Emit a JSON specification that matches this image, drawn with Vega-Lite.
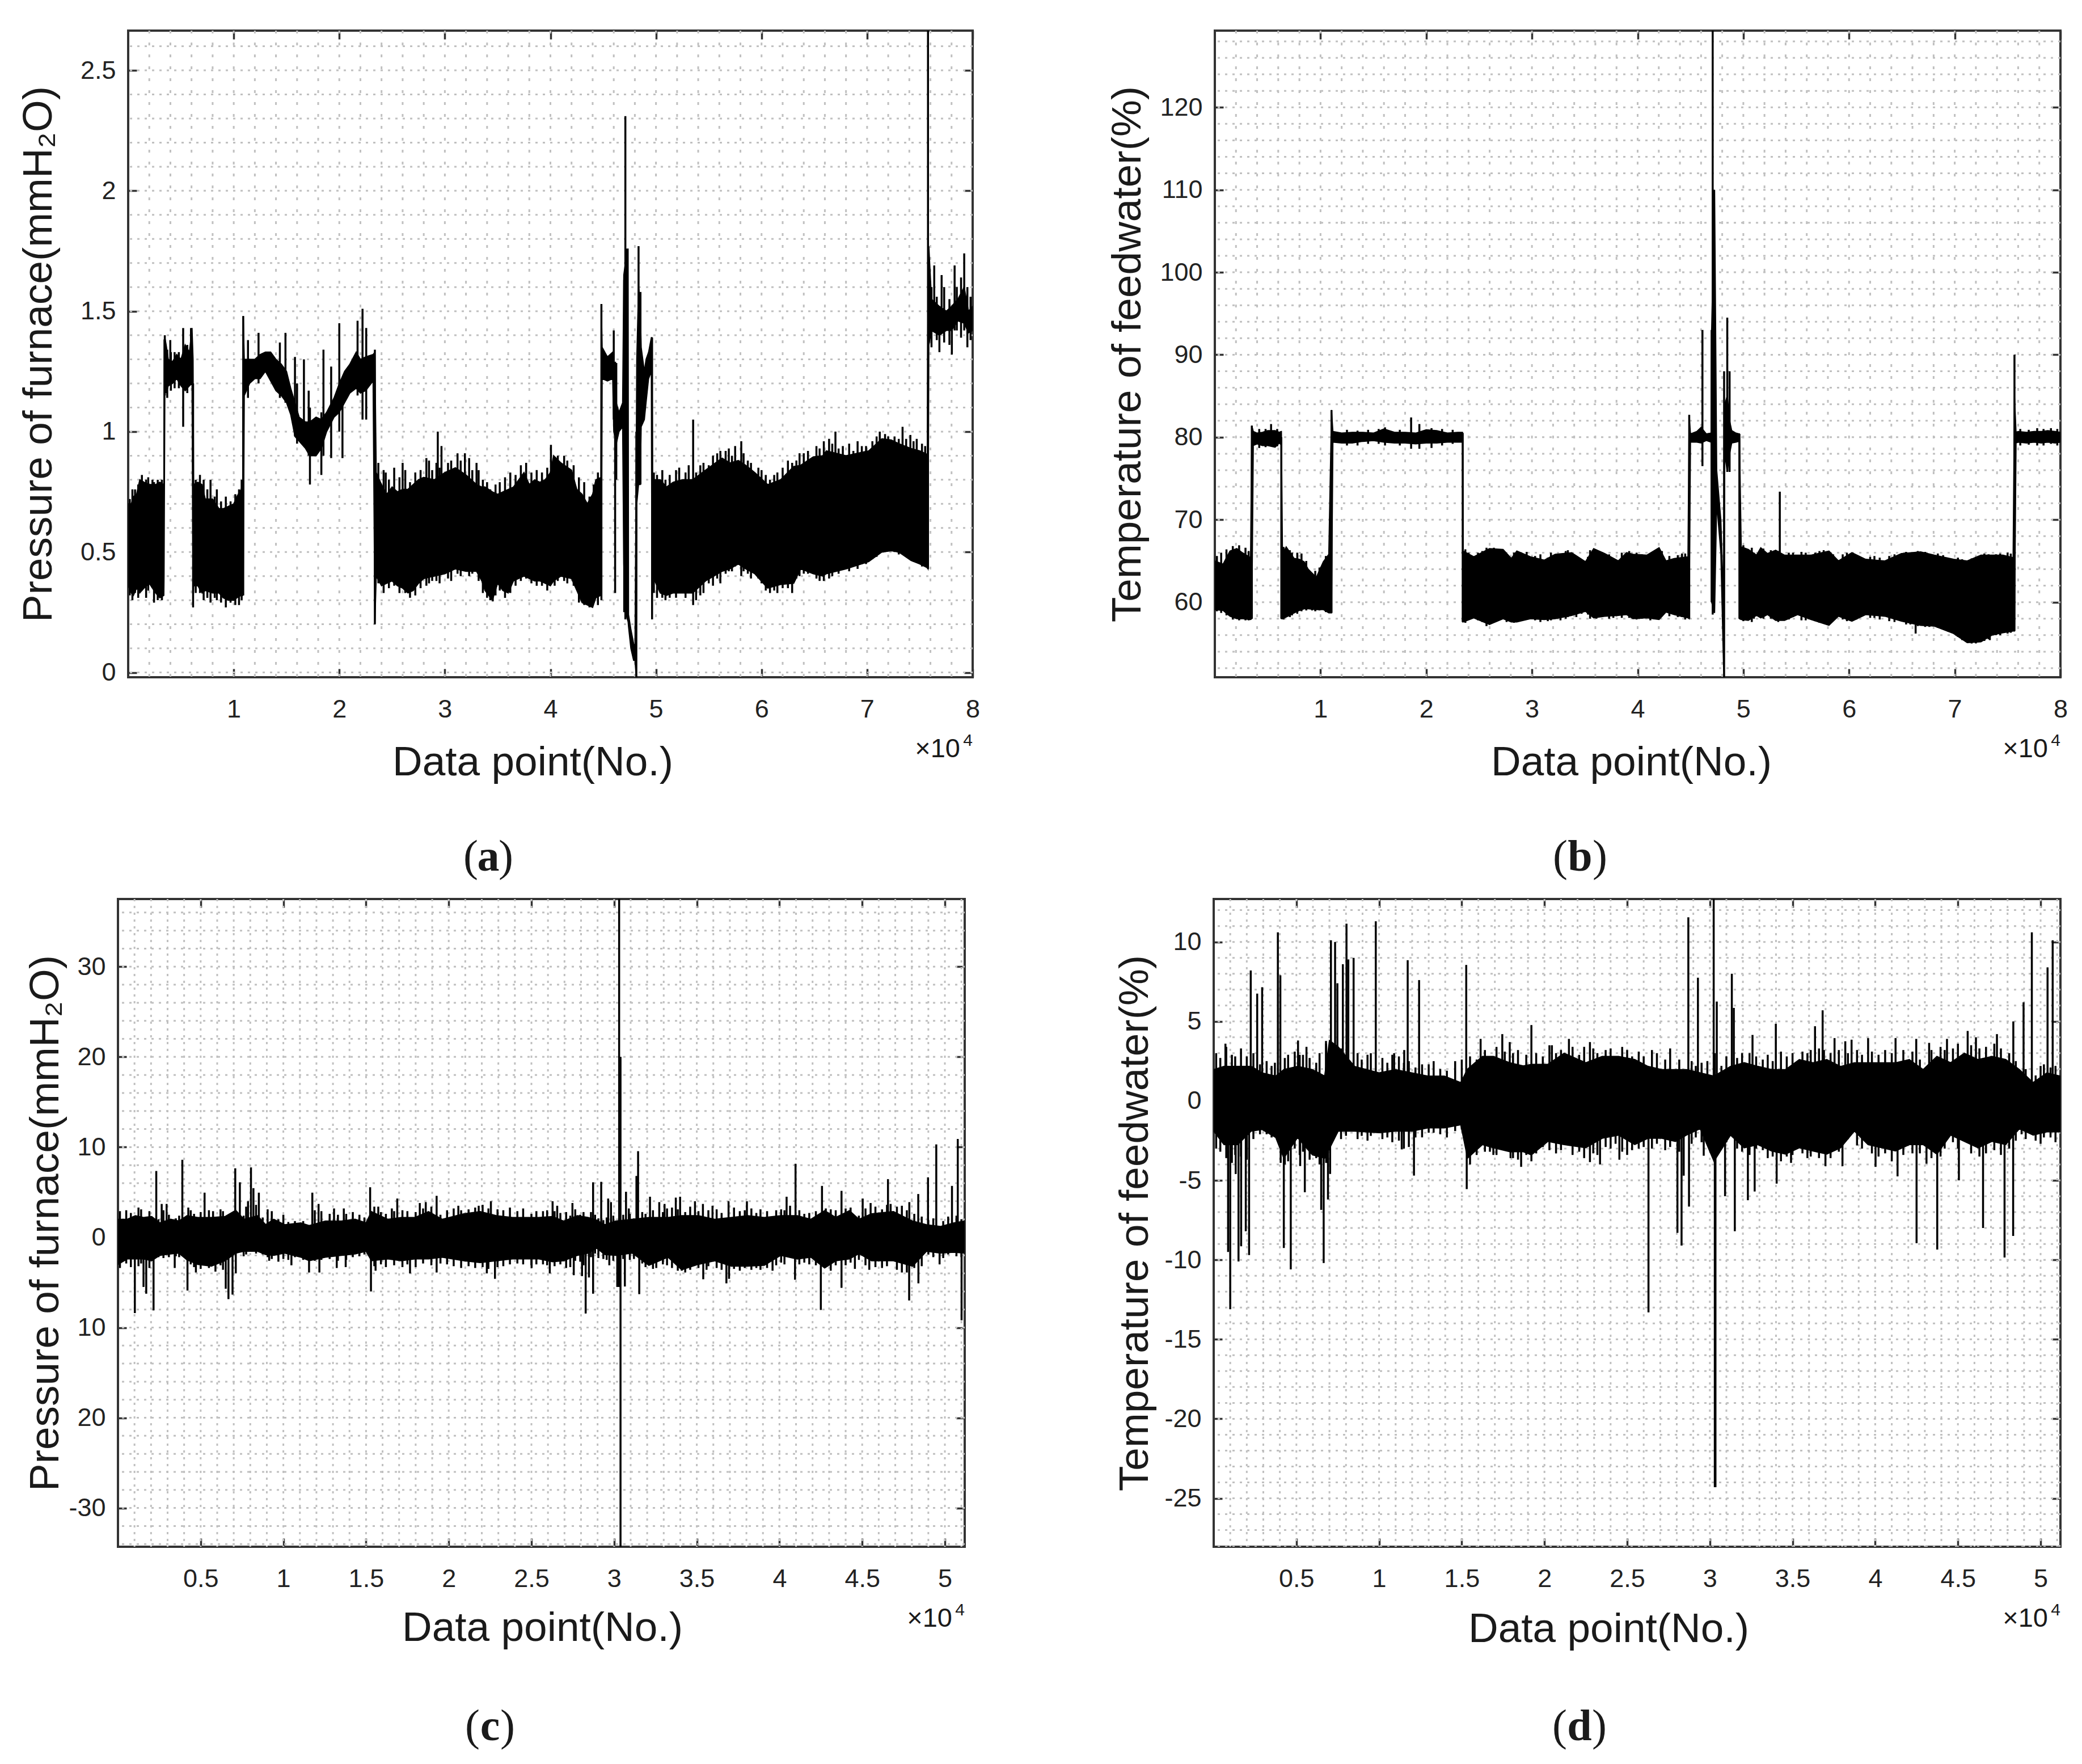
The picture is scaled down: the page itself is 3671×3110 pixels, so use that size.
{"$schema":"https://vega.github.io/schema/vega-lite/v6.json","background":"white","padding":{"left":30,"top":50,"right":0,"bottom":0},"bounds":"flush","spacing":1531,
"config":{"view":{"stroke":"#333333","strokeWidth":4},"axis":{"labelFont":"Liberation Sans","labelFontSize":45,"labelColor":"#222222","labelOverlap":false,"labelFlush":false,"labelBound":false,"titleFont":"Liberation Sans","titleFontSize":73,"titleFontWeight":"normal","titleColor":"#1a1a1a","titleBaseline":"middle","domain":false,"grid":false,"tickColor":"#333333","tickWidth":3.5,"tickSize":-15},"axisLeft":{"labelPadding":37},"axisBottom":{"labelPadding":49,"labelBaseline":"top"},"text":{"font":"Liberation Sans","color":"#1a1a1a"}},
"datasets":{
"note":[{"at":"caption"}],
"bandA":[{"n":0,"lo":0.36,"hi":0.7},{"n":300,"lo":0.33,"hi":0.7},{"n":500,"lo":0.32,"hi":0.73},{"n":800,"lo":0.35,"hi":0.74},{"n":1100,"lo":0.33,"hi":0.8},{"n":1500,"lo":0.35,"hi":0.79},{"n":2000,"lo":0.37,"hi":0.78},{"n":2600,"lo":0.33,"hi":0.78},{"n":3000,"lo":0.31,"hi":0.79},{"n":3380,"lo":0.32,"hi":0.78},{"n":3400,"lo":0.4,"hi":1.38},{"n":3480,"lo":1.2,"hi":1.39},{"n":3600,"lo":1.16,"hi":1.36},{"n":3800,"lo":1.19,"hi":1.3},{"n":4200,"lo":1.2,"hi":1.29},{"n":4600,"lo":1.22,"hi":1.32},{"n":5000,"lo":1.19,"hi":1.3},{"n":5400,"lo":1.17,"hi":1.36},{"n":5800,"lo":1.19,"hi":1.33},{"n":6050,"lo":1.2,"hi":1.43},{"n":6150,"lo":0.27,"hi":1.3},{"n":6200,"lo":0.36,"hi":0.78},{"n":6600,"lo":0.36,"hi":0.79},{"n":7000,"lo":0.33,"hi":0.78},{"n":7300,"lo":0.34,"hi":0.72},{"n":8000,"lo":0.33,"hi":0.72},{"n":8600,"lo":0.33,"hi":0.68},{"n":9000,"lo":0.31,"hi":0.68},{"n":9500,"lo":0.3,"hi":0.69},{"n":10000,"lo":0.3,"hi":0.7},{"n":10300,"lo":0.31,"hi":0.73},{"n":10700,"lo":0.32,"hi":0.76},{"n":10850,"lo":0.32,"hi":0.78},{"n":10900,"lo":0.35,"hi":1.48},{"n":11000,"lo":1.15,"hi":1.3},{"n":11500,"lo":1.2,"hi":1.3},{"n":12000,"lo":1.22,"hi":1.3},{"n":12500,"lo":1.22,"hi":1.32},{"n":13000,"lo":1.25,"hi":1.33},{"n":13500,"lo":1.21,"hi":1.33},{"n":14000,"lo":1.17,"hi":1.3},{"n":14500,"lo":1.15,"hi":1.28},{"n":15000,"lo":1.12,"hi":1.25},{"n":15400,"lo":1.07,"hi":1.18},{"n":15800,"lo":0.98,"hi":1.12},{"n":16200,"lo":0.96,"hi":1.06},{"n":16800,"lo":0.93,"hi":1.04},{"n":17200,"lo":0.9,"hi":1.04},{"n":17800,"lo":0.9,"hi":1.06},{"n":18300,"lo":0.93,"hi":1.05},{"n":18800,"lo":1,"hi":1.08},{"n":19500,"lo":1.06,"hi":1.14},{"n":20000,"lo":1.08,"hi":1.2},{"n":20500,"lo":1.12,"hi":1.25},{"n":21000,"lo":1.16,"hi":1.28},{"n":21600,"lo":1.18,"hi":1.33},{"n":22000,"lo":1.16,"hi":1.3},{"n":22500,"lo":1.17,"hi":1.31},{"n":23200,"lo":1.21,"hi":1.32},{"n":23370,"lo":0.2,"hi":1.33},{"n":23500,"lo":0.4,"hi":0.83},{"n":24000,"lo":0.36,"hi":0.78},{"n":24500,"lo":0.37,"hi":0.74},{"n":25000,"lo":0.38,"hi":0.77},{"n":25500,"lo":0.36,"hi":0.75},{"n":26000,"lo":0.35,"hi":0.76},{"n":26500,"lo":0.33,"hi":0.76},{"n":27000,"lo":0.34,"hi":0.78},{"n":27500,"lo":0.37,"hi":0.8},{"n":28000,"lo":0.39,"hi":0.81},{"n":29000,"lo":0.4,"hi":0.8},{"n":30000,"lo":0.41,"hi":0.83},{"n":31000,"lo":0.43,"hi":0.85},{"n":32000,"lo":0.42,"hi":0.82},{"n":33000,"lo":0.42,"hi":0.78},{"n":33500,"lo":0.38,"hi":0.77},{"n":33800,"lo":0.34,"hi":0.77},{"n":34500,"lo":0.3,"hi":0.75},{"n":35000,"lo":0.37,"hi":0.74},{"n":35500,"lo":0.34,"hi":0.75},{"n":36000,"lo":0.33,"hi":0.76},{"n":36500,"lo":0.38,"hi":0.77},{"n":37000,"lo":0.39,"hi":0.8},{"n":37500,"lo":0.4,"hi":0.83},{"n":38000,"lo":0.39,"hi":0.78},{"n":38500,"lo":0.38,"hi":0.8},{"n":39000,"lo":0.38,"hi":0.79},{"n":39500,"lo":0.37,"hi":0.8},{"n":40000,"lo":0.36,"hi":0.83},{"n":40300,"lo":0.38,"hi":0.9},{"n":41000,"lo":0.4,"hi":0.87},{"n":42000,"lo":0.39,"hi":0.84},{"n":42500,"lo":0.34,"hi":0.76},{"n":43000,"lo":0.29,"hi":0.74},{"n":43500,"lo":0.28,"hi":0.7},{"n":44000,"lo":0.27,"hi":0.74},{"n":44300,"lo":0.31,"hi":0.8},{"n":44780,"lo":0.32,"hi":0.81},{"n":44820,"lo":0.34,"hi":1.53},{"n":44900,"lo":1.22,"hi":1.35},{"n":45400,"lo":1.21,"hi":1.31},{"n":45900,"lo":1.22,"hi":1.33},{"n":46000,"lo":1,"hi":1.25},{"n":46240,"lo":0.95,"hi":1.12},{"n":46500,"lo":1,"hi":1.08},{"n":46840,"lo":1.02,"hi":1.12},{"n":46950,"lo":0.45,"hi":1.65},{"n":47100,"lo":0.25,"hi":1.7},{"n":47360,"lo":0.21,"hi":1.76},{"n":47400,"lo":0.19,"hi":0.24},{"n":47620,"lo":0.1,"hi":0.18},{"n":47880,"lo":0.05,"hi":0.12},{"n":48010,"lo":0.05,"hi":0.1},{"n":48130,"lo":-0.02,"hi":0.9},{"n":48180,"lo":0.7,"hi":1.3},{"n":48350,"lo":0.78,"hi":1.6},{"n":48500,"lo":0.78,"hi":1.55},{"n":48600,"lo":1.02,"hi":1.35},{"n":48900,"lo":1.05,"hi":1.25},{"n":49060,"lo":1.12,"hi":1.3},{"n":49300,"lo":1.22,"hi":1.33},{"n":49560,"lo":1.25,"hi":1.39},{"n":49620,"lo":0.22,"hi":1.39},{"n":49680,"lo":0.4,"hi":0.8},{"n":50400,"lo":0.33,"hi":0.8},{"n":51000,"lo":0.32,"hi":0.77},{"n":51630,"lo":0.33,"hi":0.79},{"n":52500,"lo":0.33,"hi":0.8},{"n":53480,"lo":0.33,"hi":0.8},{"n":54700,"lo":0.38,"hi":0.84},{"n":56260,"lo":0.42,"hi":0.89},{"n":57000,"lo":0.43,"hi":0.87},{"n":57800,"lo":0.45,"hi":0.88},{"n":58500,"lo":0.43,"hi":0.86},{"n":59350,"lo":0.41,"hi":0.83},{"n":60580,"lo":0.35,"hi":0.78},{"n":61800,"lo":0.365,"hi":0.8},{"n":63050,"lo":0.37,"hi":0.855},{"n":63700,"lo":0.43,"hi":0.86},{"n":64900,"lo":0.41,"hi":0.895},{"n":65800,"lo":0.4,"hi":0.9},{"n":66140,"lo":0.41,"hi":0.92},{"n":68000,"lo":0.43,"hi":0.9},{"n":70150,"lo":0.46,"hi":0.92},{"n":71400,"lo":0.5,"hi":0.97},{"n":72300,"lo":0.505,"hi":0.965},{"n":73000,"lo":0.5,"hi":0.95},{"n":74160,"lo":0.465,"hi":0.93},{"n":75000,"lo":0.45,"hi":0.92},{"n":75700,"lo":0.435,"hi":0.905},{"n":75770,"lo":0.43,"hi":1.6},{"n":75850,"lo":1.36,"hi":1.77},{"n":76100,"lo":1.42,"hi":1.55},{"n":76850,"lo":1.4,"hi":1.52},{"n":77500,"lo":1.42,"hi":1.5},{"n":78000,"lo":1.42,"hi":1.52},{"n":78600,"lo":1.46,"hi":1.55},{"n":79200,"lo":1.45,"hi":1.6},{"n":79600,"lo":1.41,"hi":1.5},{"n":80000,"lo":1.42,"hi":1.52}],
"spikeA":[{"n":3470,"lo":1.15,"hi":1.4},{"n":3990,"lo":1.2,"hi":1.38},{"n":5210,"lo":1.02,"hi":1.43},{"n":5950,"lo":1.2,"hi":1.43},{"n":6150,"lo":0.27,"hi":1.2},{"n":10900,"lo":0.32,"hi":1.48},{"n":11350,"lo":1.14,"hi":1.38},{"n":12350,"lo":1.2,"hi":1.41},{"n":14370,"lo":1.14,"hi":1.37},{"n":14900,"lo":1.12,"hi":1.41},{"n":15800,"lo":0.98,"hi":1.31},{"n":16000,"lo":0.95,"hi":1.2},{"n":16650,"lo":0.95,"hi":1.3},{"n":17100,"lo":0.9,"hi":1.17},{"n":17220,"lo":0.78,"hi":1.1},{"n":18300,"lo":0.82,"hi":1.08},{"n":18500,"lo":0.9,"hi":1.34},{"n":19230,"lo":0.89,"hi":1.27},{"n":20000,"lo":1,"hi":1.45},{"n":20300,"lo":0.89,"hi":1.2},{"n":21730,"lo":1.15,"hi":1.46},{"n":22200,"lo":1.05,"hi":1.51},{"n":22550,"lo":1.05,"hi":1.43},{"n":23370,"lo":0.2,"hi":1.34},{"n":24400,"lo":0.6,"hi":0.83},{"n":26000,"lo":0.6,"hi":0.87},{"n":29330,"lo":0.7,"hi":1},{"n":29680,"lo":0.7,"hi":0.94},{"n":31900,"lo":0.7,"hi":0.91},{"n":33000,"lo":0.7,"hi":0.87},{"n":34540,"lo":0.295,"hi":0.5},{"n":40050,"lo":0.4,"hi":0.945},{"n":44830,"lo":0.3,"hi":1.53},{"n":46000,"lo":1.05,"hi":1.42},{"n":46130,"lo":0.33,"hi":1.29},{"n":46240,"lo":0.8,"hi":1.285},{"n":46990,"lo":0.25,"hi":1.63},{"n":47100,"lo":0.22,"hi":2.31},{"n":47230,"lo":0.3,"hi":1.76},{"n":48140,"lo":-0.02,"hi":1},{"n":48350,"lo":0.78,"hi":1.77},{"n":48530,"lo":0.78,"hi":1.58},{"n":49630,"lo":0.22,"hi":1.39},{"n":53520,"lo":0.28,"hi":1.05},{"n":58080,"lo":0.4,"hi":0.96},{"n":67000,"lo":0.6,"hi":1},{"n":73360,"lo":0.6,"hi":1.02},{"n":74100,"lo":0.6,"hi":0.986},{"n":75770,"lo":0.43,"hi":2.665},{"n":76360,"lo":1.42,"hi":1.69},{"n":76850,"lo":1.33,"hi":1.5},{"n":77060,"lo":1.42,"hi":1.65},{"n":78030,"lo":1.32,"hi":1.5},{"n":78290,"lo":1.42,"hi":1.69},{"n":79200,"lo":1.42,"hi":1.74},{"n":150,"lo":0.32,"hi":0.72},{"n":400,"lo":0.3,"hi":0.76},{"n":650,"lo":0.33,"hi":0.76},{"n":950,"lo":0.31,"hi":0.78},{"n":1300,"lo":0.34,"hi":0.82},{"n":1700,"lo":0.31,"hi":0.8},{"n":1900,"lo":0.34,"hi":0.81},{"n":2300,"lo":0.35,"hi":0.8},{"n":2450,"lo":0.29,"hi":0.79},{"n":2800,"lo":0.3,"hi":0.8},{"n":3200,"lo":0.3,"hi":0.8},{"n":3700,"lo":1.14,"hi":1.34},{"n":4050,"lo":1.17,"hi":1.33},{"n":4400,"lo":1.18,"hi":1.33},{"n":4800,"lo":1.18,"hi":1.33},{"n":5600,"lo":1.16,"hi":1.36},{"n":6400,"lo":0.33,"hi":0.8},{"n":6800,"lo":0.33,"hi":0.82},{"n":7150,"lo":0.3,"hi":0.8},{"n":7500,"lo":0.31,"hi":0.76},{"n":7800,"lo":0.29,"hi":0.8},{"n":8200,"lo":0.31,"hi":0.73},{"n":8400,"lo":0.3,"hi":0.76},{"n":8800,"lo":0.29,"hi":0.71},{"n":9250,"lo":0.27,"hi":0.73},{"n":9700,"lo":0.29,"hi":0.71},{"n":10150,"lo":0.28,"hi":0.74},{"n":10500,"lo":0.28,"hi":0.76},{"n":10750,"lo":0.3,"hi":0.8},{"n":23700,"lo":0.37,"hi":0.87},{"n":24200,"lo":0.33,"hi":0.84},{"n":24700,"lo":0.35,"hi":0.8},{"n":25200,"lo":0.36,"hi":0.85},{"n":25700,"lo":0.33,"hi":0.81},{"n":26250,"lo":0.33,"hi":0.84},{"n":26700,"lo":0.31,"hi":0.79},{"n":27200,"lo":0.32,"hi":0.83},{"n":27700,"lo":0.35,"hi":0.84},{"n":28250,"lo":0.36,"hi":0.89},{"n":28500,"lo":0.37,"hi":0.88},{"n":28800,"lo":0.38,"hi":0.84},{"n":29200,"lo":0.38,"hi":0.87},{"n":29500,"lo":0.37,"hi":0.85},{"n":30300,"lo":0.39,"hi":0.87},{"n":30600,"lo":0.38,"hi":0.88},{"n":31200,"lo":0.41,"hi":0.91},{"n":31500,"lo":0.4,"hi":0.88},{"n":32300,"lo":0.4,"hi":0.89},{"n":32600,"lo":0.41,"hi":0.84},{"n":33200,"lo":0.38,"hi":0.84},{"n":33600,"lo":0.33,"hi":0.8},{"n":34000,"lo":0.31,"hi":0.79},{"n":34300,"lo":0.3,"hi":0.76},{"n":34800,"lo":0.32,"hi":0.78},{"n":35200,"lo":0.34,"hi":0.79},{"n":35700,"lo":0.31,"hi":0.81},{"n":36200,"lo":0.33,"hi":0.83},{"n":36700,"lo":0.36,"hi":0.82},{"n":37200,"lo":0.38,"hi":0.86},{"n":37700,"lo":0.39,"hi":0.87},{"n":38200,"lo":0.37,"hi":0.83},{"n":38700,"lo":0.36,"hi":0.84},{"n":39200,"lo":0.36,"hi":0.83},{"n":39700,"lo":0.34,"hi":0.85},{"n":40400,"lo":0.36,"hi":0.88},{"n":40700,"lo":0.38,"hi":0.9},{"n":41300,"lo":0.38,"hi":0.9},{"n":41600,"lo":0.37,"hi":0.88},{"n":42200,"lo":0.36,"hi":0.86},{"n":42700,"lo":0.29,"hi":0.81},{"n":43200,"lo":0.28,"hi":0.79},{"n":43700,"lo":0.27,"hi":0.73},{"n":44100,"lo":0.29,"hi":0.78},{"n":44500,"lo":0.28,"hi":0.83},{"n":49800,"lo":0.33,"hi":0.83},{"n":50100,"lo":0.31,"hi":0.82},{"n":50600,"lo":0.31,"hi":0.84},{"n":50900,"lo":0.3,"hi":0.8},{"n":51300,"lo":0.31,"hi":0.82},{"n":51900,"lo":0.31,"hi":0.84},{"n":52200,"lo":0.33,"hi":0.85},{"n":52800,"lo":0.31,"hi":0.83},{"n":53100,"lo":0.33,"hi":0.86},{"n":53800,"lo":0.3,"hi":0.83},{"n":54200,"lo":0.32,"hi":0.86},{"n":54500,"lo":0.33,"hi":0.87},{"n":55000,"lo":0.37,"hi":0.86},{"n":55400,"lo":0.36,"hi":0.9},{"n":55800,"lo":0.39,"hi":0.91},{"n":56100,"lo":0.37,"hi":0.92},{"n":56600,"lo":0.41,"hi":0.92},{"n":56900,"lo":0.42,"hi":0.93},{"n":57200,"lo":0.42,"hi":0.9},{"n":57500,"lo":0.44,"hi":0.94},{"n":58300,"lo":0.42,"hi":0.91},{"n":58700,"lo":0.41,"hi":0.88},{"n":59000,"lo":0.39,"hi":0.87},{"n":59700,"lo":0.39,"hi":0.85},{"n":60000,"lo":0.37,"hi":0.84},{"n":60400,"lo":0.34,"hi":0.82},{"n":60800,"lo":0.33,"hi":0.8},{"n":61200,"lo":0.34,"hi":0.82},{"n":61500,"lo":0.33,"hi":0.83},{"n":62000,"lo":0.35,"hi":0.85},{"n":62500,"lo":0.35,"hi":0.88},{"n":62900,"lo":0.33,"hi":0.87},{"n":63300,"lo":0.39,"hi":0.88},{"n":63600,"lo":0.4,"hi":0.91},{"n":64000,"lo":0.41,"hi":0.91},{"n":64400,"lo":0.41,"hi":0.92},{"n":65200,"lo":0.39,"hi":0.94},{"n":65500,"lo":0.38,"hi":0.93},{"n":65900,"lo":0.38,"hi":0.96},{"n":66400,"lo":0.39,"hi":0.97},{"n":66700,"lo":0.4,"hi":0.95},{"n":67300,"lo":0.41,"hi":0.93},{"n":67700,"lo":0.43,"hi":0.94},{"n":68300,"lo":0.42,"hi":0.95},{"n":68700,"lo":0.44,"hi":0.92},{"n":69100,"lo":0.43,"hi":0.96},{"n":69500,"lo":0.45,"hi":0.94},{"n":69900,"lo":0.45,"hi":0.94},{"n":70500,"lo":0.47,"hi":0.96},{"n":70900,"lo":0.48,"hi":0.98},{"n":71200,"lo":0.5,"hi":1},{"n":71700,"lo":0.5,"hi":0.99},{"n":72000,"lo":0.51,"hi":0.98},{"n":72600,"lo":0.5,"hi":0.98},{"n":73000,"lo":0.49,"hi":0.97},{"n":73700,"lo":0.48,"hi":0.97},{"n":74400,"lo":0.46,"hi":0.96},{"n":74700,"lo":0.46,"hi":0.97},{"n":75200,"lo":0.44,"hi":0.95},{"n":75500,"lo":0.44,"hi":0.94},{"n":76100,"lo":1.35,"hi":1.6},{"n":76600,"lo":1.38,"hi":1.56},{"n":77300,"lo":1.37,"hi":1.6},{"n":77800,"lo":1.36,"hi":1.55},{"n":78500,"lo":1.42,"hi":1.6},{"n":78900,"lo":1.39,"hi":1.64},{"n":79500,"lo":1.35,"hi":1.6},{"n":79800,"lo":1.38,"hi":1.56}],
"bandB":[{"n":0,"lo":59.1,"hi":65},{"n":780,"lo":59,"hi":64.6},{"n":1430,"lo":58.3,"hi":66.2},{"n":2080,"lo":58,"hi":66.5},{"n":2600,"lo":58,"hi":66},{"n":3380,"lo":57.9,"hi":65.4},{"n":3500,"lo":58,"hi":81.4},{"n":3640,"lo":79,"hi":80.7},{"n":4000,"lo":79.2,"hi":80.5},{"n":4500,"lo":79,"hi":80.6},{"n":5000,"lo":79,"hi":80.8},{"n":5700,"lo":78.8,"hi":80.8},{"n":6100,"lo":79.3,"hi":80.6},{"n":6270,"lo":79.1,"hi":80.7},{"n":6300,"lo":58,"hi":80.7},{"n":6400,"lo":58,"hi":65.8},{"n":6750,"lo":58.2,"hi":66.7},{"n":7500,"lo":58.7,"hi":65.3},{"n":8000,"lo":59,"hi":65.2},{"n":8450,"lo":59.2,"hi":64.9},{"n":8830,"lo":59.2,"hi":64},{"n":9600,"lo":59.1,"hi":63},{"n":10260,"lo":59.1,"hi":64.9},{"n":10780,"lo":58.7,"hi":65.8},{"n":11040,"lo":58.7,"hi":83.3},{"n":11170,"lo":79.4,"hi":80.7},{"n":12000,"lo":79.3,"hi":80.5},{"n":13000,"lo":79.3,"hi":80.6},{"n":14000,"lo":79.5,"hi":80.6},{"n":15000,"lo":79.6,"hi":80.5},{"n":16000,"lo":79.4,"hi":81},{"n":17000,"lo":79.3,"hi":80.6},{"n":18000,"lo":79.3,"hi":80.6},{"n":19000,"lo":79.2,"hi":80.5},{"n":20000,"lo":79.3,"hi":80.9},{"n":21000,"lo":79.3,"hi":80.8},{"n":22000,"lo":79.4,"hi":80.5},{"n":23000,"lo":79.4,"hi":80.6},{"n":23430,"lo":79.4,"hi":80.6},{"n":23460,"lo":57.6,"hi":80.5},{"n":23500,"lo":57.6,"hi":66.2},{"n":24500,"lo":58.1,"hi":65.5},{"n":25980,"lo":57.3,"hi":66.5},{"n":27270,"lo":58,"hi":66.4},{"n":28050,"lo":57.6,"hi":65.3},{"n":28570,"lo":57.6,"hi":66.2},{"n":29860,"lo":58,"hi":65.5},{"n":31160,"lo":57.9,"hi":65.1},{"n":32200,"lo":58,"hi":65.8},{"n":33760,"lo":58.4,"hi":66},{"n":35060,"lo":58.9,"hi":64.9},{"n":35840,"lo":58.1,"hi":66.5},{"n":36880,"lo":58.3,"hi":65.9},{"n":38170,"lo":58.4,"hi":65},{"n":38950,"lo":58.5,"hi":66},{"n":39560,"lo":58,"hi":65.8},{"n":40860,"lo":58.1,"hi":65.7},{"n":42030,"lo":57.9,"hi":66.6},{"n":42680,"lo":58.8,"hi":65},{"n":43460,"lo":58.5,"hi":65.3},{"n":44760,"lo":58.1,"hi":65.5},{"n":44870,"lo":58,"hi":82.7},{"n":45000,"lo":79.4,"hi":80.4},{"n":45600,"lo":79.4,"hi":80.7},{"n":46000,"lo":79.3,"hi":81.2},{"n":46500,"lo":79.6,"hi":80.4},{"n":46950,"lo":79.4,"hi":80.5},{"n":47000,"lo":60,"hi":93},{"n":47280,"lo":58.7,"hi":110},{"n":47480,"lo":72,"hi":76},{"n":47870,"lo":66,"hi":70},{"n":48130,"lo":52,"hi":60},{"n":48180,"lo":50.9,"hi":80},{"n":48240,"lo":78,"hi":84},{"n":48480,"lo":75.8,"hi":85},{"n":48700,"lo":78,"hi":82},{"n":48900,"lo":79.3,"hi":80.8},{"n":49300,"lo":79.4,"hi":80.5},{"n":49600,"lo":79.5,"hi":80.4},{"n":49630,"lo":58,"hi":80.4},{"n":49800,"lo":57.9,"hi":66.7},{"n":50470,"lo":57.8,"hi":66.4},{"n":51250,"lo":58.4,"hi":65.7},{"n":51650,"lo":58.1,"hi":66.6},{"n":52280,"lo":58.5,"hi":65.9},{"n":53060,"lo":57.8,"hi":66.3},{"n":53900,"lo":57.8,"hi":65.7},{"n":55130,"lo":58.5,"hi":65.7},{"n":56420,"lo":57.9,"hi":65.7},{"n":58100,"lo":57.2,"hi":66.2},{"n":59000,"lo":58.3,"hi":65},{"n":60270,"lo":57.7,"hi":66},{"n":61570,"lo":58.5,"hi":65.2},{"n":63390,"lo":58.3,"hi":65},{"n":64950,"lo":57.7,"hi":65.9},{"n":66770,"lo":57.2,"hi":66.1},{"n":68070,"lo":57.1,"hi":65.7},{"n":69890,"lo":56.2,"hi":65.2},{"n":71180,"lo":55.1,"hi":65},{"n":72480,"lo":55.2,"hi":65.7},{"n":73500,"lo":56,"hi":65.7},{"n":74560,"lo":56.3,"hi":65.7},{"n":75520,"lo":56.5,"hi":65.4},{"n":75650,"lo":56.5,"hi":85},{"n":75800,"lo":79.3,"hi":80.6},{"n":76000,"lo":79.4,"hi":80.7},{"n":76800,"lo":79.3,"hi":80.6},{"n":77500,"lo":79.4,"hi":80.7},{"n":78200,"lo":79.3,"hi":80.7},{"n":78800,"lo":79.4,"hi":80.8},{"n":79500,"lo":79.3,"hi":80.7},{"n":80000,"lo":79.4,"hi":80.6}],
"spikeB":[{"n":3500,"lo":58,"hi":81.4},{"n":5320,"lo":79,"hi":81.6},{"n":6290,"lo":58,"hi":80},{"n":11040,"lo":58.7,"hi":83.3},{"n":16100,"lo":79,"hi":81.2},{"n":18570,"lo":78.6,"hi":82.4},{"n":19350,"lo":78.6,"hi":81.6},{"n":20500,"lo":78.7,"hi":81.1},{"n":23450,"lo":57.6,"hi":80.5},{"n":26000,"lo":57.3,"hi":66.5},{"n":44880,"lo":58,"hi":82.7},{"n":46130,"lo":76.5,"hi":93},{"n":47000,"lo":60,"hi":93},{"n":47100,"lo":58.5,"hi":129.3},{"n":47200,"lo":58.7,"hi":110},{"n":48180,"lo":50.9,"hi":88},{"n":48480,"lo":75.8,"hi":94.5},{"n":48700,"lo":75.8,"hi":88},{"n":49630,"lo":58,"hi":80.4},{"n":53450,"lo":58,"hi":73.4},{"n":66300,"lo":56.2,"hi":62},{"n":73320,"lo":55.4,"hi":62},{"n":75650,"lo":56.5,"hi":90},{"n":200,"lo":58.9,"hi":65.6},{"n":600,"lo":58.7,"hi":66},{"n":1100,"lo":58.4,"hi":66.4},{"n":1700,"lo":57.9,"hi":66.8},{"n":2300,"lo":57.8,"hi":66.9},{"n":2900,"lo":57.8,"hi":66.6},{"n":3200,"lo":57.8,"hi":66.2},{"n":4200,"lo":78.7,"hi":81},{"n":4800,"lo":78.8,"hi":81},{"n":5900,"lo":78.9,"hi":81},{"n":6500,"lo":57.9,"hi":66.7},{"n":7100,"lo":58.2,"hi":66.3},{"n":7300,"lo":58.4,"hi":66},{"n":7800,"lo":58.6,"hi":66},{"n":8200,"lo":58.9,"hi":65.9},{"n":8650,"lo":59,"hi":65},{"n":9200,"lo":59,"hi":63.5},{"n":9500,"lo":58.9,"hi":63.8},{"n":9900,"lo":59,"hi":64.2},{"n":10500,"lo":58.8,"hi":65.6},{"n":12500,"lo":79,"hi":80.9},{"n":13500,"lo":79,"hi":80.8},{"n":14500,"lo":79.2,"hi":80.9},{"n":15500,"lo":79.2,"hi":81},{"n":17500,"lo":79,"hi":80.9},{"n":21500,"lo":79,"hi":81},{"n":22500,"lo":79.2,"hi":80.9},{"n":23700,"lo":57.5,"hi":66.4},{"n":24000,"lo":57.9,"hi":66},{"n":24900,"lo":57.8,"hi":66},{"n":25300,"lo":57.6,"hi":66.2},{"n":25700,"lo":57.1,"hi":66.6},{"n":26400,"lo":57.8,"hi":66.6},{"n":26800,"lo":57.8,"hi":66.3},{"n":27600,"lo":57.6,"hi":65.8},{"n":28300,"lo":57.5,"hi":66},{"n":29100,"lo":57.8,"hi":65.7},{"n":29500,"lo":57.9,"hi":66.1},{"n":30300,"lo":57.8,"hi":65.6},{"n":30800,"lo":57.6,"hi":65.8},{"n":31500,"lo":57.7,"hi":65.4},{"n":31800,"lo":57.8,"hi":66},{"n":32700,"lo":57.8,"hi":65.8},{"n":33200,"lo":58,"hi":66.2},{"n":33400,"lo":58.2,"hi":66.3},{"n":34200,"lo":58.2,"hi":65.6},{"n":34700,"lo":58.6,"hi":65.1},{"n":35300,"lo":58.5,"hi":65.5},{"n":35500,"lo":58,"hi":66.3},{"n":36100,"lo":58,"hi":66.2},{"n":36500,"lo":58.3,"hi":66.1},{"n":37300,"lo":58,"hi":65.8},{"n":37700,"lo":58.1,"hi":65.2},{"n":38500,"lo":58.1,"hi":66},{"n":39200,"lo":58.1,"hi":66.2},{"n":39900,"lo":57.9,"hi":66},{"n":40400,"lo":58,"hi":65.8},{"n":41200,"lo":57.8,"hi":65.9},{"n":41700,"lo":58,"hi":66.2},{"n":42300,"lo":58.3,"hi":66.2},{"n":43000,"lo":58.3,"hi":65.6},{"n":43800,"lo":58.2,"hi":65.7},{"n":44200,"lo":58.2,"hi":65.9},{"n":44500,"lo":57.9,"hi":65.9},{"n":50000,"lo":57.7,"hi":66.9},{"n":50800,"lo":57.6,"hi":66.6},{"n":51000,"lo":58,"hi":66},{"n":51900,"lo":58,"hi":66.5},{"n":52600,"lo":58,"hi":66.3},{"n":53300,"lo":57.6,"hi":66.2},{"n":54300,"lo":57.9,"hi":66},{"n":54700,"lo":58.2,"hi":66},{"n":55500,"lo":57.8,"hi":66.1},{"n":55900,"lo":57.8,"hi":66},{"n":56800,"lo":57.7,"hi":66},{"n":57200,"lo":57.5,"hi":66.2},{"n":57600,"lo":57.5,"hi":66.3},{"n":58500,"lo":57.9,"hi":65.8},{"n":59400,"lo":57.9,"hi":65.8},{"n":59800,"lo":57.7,"hi":66},{"n":60700,"lo":57.9,"hi":65.7},{"n":61000,"lo":58.2,"hi":65.5},{"n":62000,"lo":58.1,"hi":65.5},{"n":62400,"lo":58.1,"hi":65.6},{"n":62900,"lo":57.9,"hi":65.4},{"n":63800,"lo":57.7,"hi":65.6},{"n":64300,"lo":57.6,"hi":65.8},{"n":65400,"lo":57.3,"hi":66.1},{"n":65800,"lo":57.3,"hi":66},{"n":66500,"lo":57.1,"hi":66.2},{"n":67200,"lo":57,"hi":66.1},{"n":67600,"lo":57,"hi":65.8},{"n":68400,"lo":56.9,"hi":65.9},{"n":68900,"lo":56.7,"hi":65.7},{"n":69400,"lo":56.4,"hi":65.3},{"n":70300,"lo":55.8,"hi":65.4},{"n":70700,"lo":55.4,"hi":65.2},{"n":71600,"lo":55,"hi":65.3},{"n":72000,"lo":55,"hi":65.5},{"n":72800,"lo":55.3,"hi":65.9},{"n":73200,"lo":55.5,"hi":65.8},{"n":73900,"lo":56,"hi":65.8},{"n":74300,"lo":56,"hi":65.9},{"n":75000,"lo":56.2,"hi":66},{"n":75300,"lo":56.3,"hi":65.9},{"n":76200,"lo":79,"hi":81},{"n":77000,"lo":79.1,"hi":80.9},{"n":77800,"lo":79,"hi":81.1},{"n":78400,"lo":79,"hi":81},{"n":79100,"lo":79.2,"hi":81.1},{"n":79700,"lo":79,"hi":81}],
"bandC":[{"n":0,"lo":-3,"hi":2},{"n":560,"lo":-2.4,"hi":2},{"n":1050,"lo":-2.4,"hi":2.4},{"n":1545,"lo":-2.4,"hi":2.2},{"n":2040,"lo":-2.6,"hi":2.3},{"n":2530,"lo":-2,"hi":1.6},{"n":3190,"lo":-1.85,"hi":2},{"n":3680,"lo":-1.75,"hi":1.8},{"n":4170,"lo":-2.5,"hi":2.4},{"n":4830,"lo":-3,"hi":2.2},{"n":5650,"lo":-3.2,"hi":2.2},{"n":6470,"lo":-2.6,"hi":2.3},{"n":7120,"lo":-1.75,"hi":3},{"n":7620,"lo":-1.55,"hi":2},{"n":8440,"lo":-1.55,"hi":2.4},{"n":8930,"lo":-1.9,"hi":1.4},{"n":9420,"lo":-2,"hi":2},{"n":10080,"lo":-1.75,"hi":1.4},{"n":11060,"lo":-2.2,"hi":1.6},{"n":11560,"lo":-2.6,"hi":1.3},{"n":12540,"lo":-2.2,"hi":1.8},{"n":13520,"lo":-2,"hi":1.8},{"n":14340,"lo":-1.85,"hi":2},{"n":15000,"lo":-1.55,"hi":1.6},{"n":15330,"lo":-2.6,"hi":2.85},{"n":16310,"lo":-2.4,"hi":2},{"n":17130,"lo":-2.6,"hi":2.2},{"n":17960,"lo":-2.4,"hi":2.2},{"n":18780,"lo":-2.4,"hi":2.85},{"n":19600,"lo":-2.2,"hi":2},{"n":20910,"lo":-2.6,"hi":2.6},{"n":21900,"lo":-2.8,"hi":2.85},{"n":22880,"lo":-2.6,"hi":2.4},{"n":23860,"lo":-2.4,"hi":2.2},{"n":24850,"lo":-2.4,"hi":2.2},{"n":25450,"lo":-2.4,"hi":2.2},{"n":26280,"lo":-2.7,"hi":2.3},{"n":26950,"lo":-2.6,"hi":1.8},{"n":27780,"lo":-2,"hi":2.4},{"n":28440,"lo":-1.75,"hi":2.2},{"n":28940,"lo":-1.2,"hi":1.9},{"n":29440,"lo":-1.9,"hi":1.4},{"n":30100,"lo":-2,"hi":1.8},{"n":31100,"lo":-1.75,"hi":2},{"n":32100,"lo":-3.1,"hi":2.2},{"n":33260,"lo":-2.2,"hi":2.2},{"n":34090,"lo":-3.6,"hi":2.4},{"n":35090,"lo":-3,"hi":2.4},{"n":36090,"lo":-2.6,"hi":2},{"n":37080,"lo":-3.2,"hi":2.2},{"n":38080,"lo":-3.2,"hi":2.4},{"n":39080,"lo":-3.1,"hi":2.2},{"n":40080,"lo":-2,"hi":2.4},{"n":41070,"lo":-2.4,"hi":2.4},{"n":41900,"lo":-2.2,"hi":2},{"n":42730,"lo":-3.4,"hi":2.95},{"n":43400,"lo":-2.6,"hi":2.2},{"n":44230,"lo":-2.4,"hi":2.95},{"n":44810,"lo":-1.8,"hi":2},{"n":45560,"lo":-2.6,"hi":2.6},{"n":46890,"lo":-2.6,"hi":2.85},{"n":48050,"lo":-3.2,"hi":1.8},{"n":48890,"lo":-1.55,"hi":1.4},{"n":49720,"lo":-1.75,"hi":1.2},{"n":50550,"lo":-1.65,"hi":1.6},{"n":51200,"lo":-1.75,"hi":1.8}],
"spikeC":[{"n":2316,"lo":0,"hi":7.35},{"n":3892,"lo":0,"hi":8.6},{"n":2940,"lo":0,"hi":3.7},{"n":2644,"lo":0,"hi":3.7},{"n":5237,"lo":0,"hi":4.95},{"n":4253,"lo":0,"hi":3.3},{"n":7092,"lo":0,"hi":7.65},{"n":7370,"lo":0,"hi":6.1},{"n":8043,"lo":0,"hi":7.75},{"n":8191,"lo":0,"hi":5.45},{"n":8519,"lo":0,"hi":4.95},{"n":7863,"lo":0,"hi":4},{"n":11752,"lo":0,"hi":4.95},{"n":12130,"lo":0,"hi":3.7},{"n":13065,"lo":0,"hi":3.2},{"n":13656,"lo":0,"hi":3.2},{"n":15248,"lo":0,"hi":5.55},{"n":15740,"lo":0,"hi":3.4},{"n":16888,"lo":0,"hi":4.3},{"n":16560,"lo":0,"hi":3.2},{"n":18250,"lo":0,"hi":3.8},{"n":18611,"lo":0,"hi":3.9},{"n":19268,"lo":0,"hi":4.6},{"n":20581,"lo":0,"hi":3.5},{"n":22550,"lo":0,"hi":4},{"n":21812,"lo":0,"hi":3.5},{"n":1020,"lo":-8.4,"hi":0},{"n":1545,"lo":-5.5,"hi":0},{"n":1709,"lo":-6.25,"hi":0},{"n":2152,"lo":-8.1,"hi":0},{"n":3432,"lo":-3.4,"hi":0},{"n":4203,"lo":-5.9,"hi":0},{"n":4712,"lo":-3.9,"hi":0},{"n":6517,"lo":-5.7,"hi":0},{"n":6681,"lo":-6.85,"hi":0},{"n":6927,"lo":-6.35,"hi":0},{"n":7124,"lo":-4,"hi":0},{"n":5894,"lo":-3.8,"hi":0},{"n":9143,"lo":-2.6,"hi":0},{"n":10488,"lo":-3.1,"hi":0},{"n":11555,"lo":-3.9,"hi":0},{"n":12179,"lo":-3.9,"hi":0},{"n":13229,"lo":-3.4,"hi":0},{"n":13770,"lo":-3.3,"hi":0},{"n":15297,"lo":-6,"hi":0},{"n":15576,"lo":-3.7,"hi":0},{"n":17660,"lo":-4,"hi":0},{"n":19268,"lo":-3.9,"hi":0},{"n":22304,"lo":-4,"hi":0},{"n":22796,"lo":-4.6,"hi":0},{"n":25011,"lo":-3.4,"hi":0},{"n":26280,"lo":0,"hi":4},{"n":26560,"lo":0,"hi":3.5},{"n":27480,"lo":0,"hi":3.8},{"n":28730,"lo":0,"hi":6.1},{"n":29220,"lo":0,"hi":6.15},{"n":29640,"lo":0,"hi":4.3},{"n":29810,"lo":0,"hi":3.9},{"n":30304,"lo":-5.5,"hi":37.5},{"n":30387,"lo":-34.3,"hi":20},{"n":30720,"lo":0,"hi":5.05},{"n":30890,"lo":0,"hi":3.2},{"n":31350,"lo":0,"hi":6.8},{"n":31450,"lo":0,"hi":9.55},{"n":32170,"lo":0,"hi":4.5},{"n":32730,"lo":0,"hi":3.9},{"n":33050,"lo":0,"hi":3.7},{"n":33730,"lo":0,"hi":4.4},{"n":33990,"lo":0,"hi":4.5},{"n":34890,"lo":0,"hi":4},{"n":35370,"lo":0,"hi":3.7},{"n":35950,"lo":0,"hi":3.5},{"n":36920,"lo":0,"hi":4},{"n":38030,"lo":0,"hi":4},{"n":40430,"lo":0,"hi":4.5},{"n":40640,"lo":0,"hi":3.5},{"n":40970,"lo":0,"hi":8.15},{"n":42570,"lo":0,"hi":5.7},{"n":43750,"lo":0,"hi":5.15},{"n":45030,"lo":0,"hi":4.3},{"n":45510,"lo":0,"hi":3.8},{"n":46560,"lo":0,"hi":6.45},{"n":46720,"lo":0,"hi":3.7},{"n":47850,"lo":0,"hi":3.9},{"n":48390,"lo":0,"hi":4.8},{"n":48980,"lo":0,"hi":6.65},{"n":49480,"lo":0,"hi":10.3},{"n":50430,"lo":0,"hi":5.7},{"n":50780,"lo":0,"hi":10.9},{"n":26110,"lo":-4,"hi":0},{"n":27560,"lo":-4.2,"hi":0},{"n":28060,"lo":-4.3,"hi":0},{"n":28280,"lo":-8.45,"hi":0},{"n":28480,"lo":-4.45,"hi":0},{"n":28730,"lo":-6.25,"hi":0},{"n":29710,"lo":-3.1,"hi":0},{"n":30190,"lo":-5.5,"hi":0},{"n":30650,"lo":-5.45,"hi":0},{"n":31520,"lo":-6.3,"hi":0},{"n":32550,"lo":-3.4,"hi":0},{"n":34090,"lo":-3.7,"hi":0},{"n":35390,"lo":-4.65,"hi":0},{"n":35590,"lo":-3.6,"hi":0},{"n":36790,"lo":-5.1,"hi":0},{"n":36950,"lo":-4.6,"hi":0},{"n":39580,"lo":-3.7,"hi":0},{"n":40940,"lo":-4.7,"hi":0},{"n":42500,"lo":-8.05,"hi":0},{"n":43750,"lo":-5.6,"hi":0},{"n":44560,"lo":-3.5,"hi":0},{"n":45430,"lo":-3.6,"hi":0},{"n":47840,"lo":-7,"hi":0},{"n":48400,"lo":-5.1,"hi":0},{"n":49680,"lo":-3,"hi":0},{"n":51010,"lo":-9.2,"hi":0},{"n":120,"lo":-3.4,"hi":2.9},{"n":500,"lo":-2.9,"hi":3},{"n":780,"lo":-3.3,"hi":2.7},{"n":1240,"lo":-3.2,"hi":3.3},{"n":1400,"lo":-2.9,"hi":3.1},{"n":1900,"lo":-3.4,"hi":2.9},{"n":2450,"lo":-2.2,"hi":2},{"n":2750,"lo":-2.3,"hi":3},{"n":3080,"lo":-2.2,"hi":2.5},{"n":3500,"lo":-2.1,"hi":2.1},{"n":3700,"lo":-2.2,"hi":2.4},{"n":4400,"lo":-3,"hi":3},{"n":4600,"lo":-3.3,"hi":2.6},{"n":5000,"lo":-3.5,"hi":2.8},{"n":5500,"lo":-3.4,"hi":3},{"n":5750,"lo":-2.9,"hi":2.9},{"n":6200,"lo":-3.1,"hi":3.1},{"n":6350,"lo":-3.6,"hi":2.9},{"n":7600,"lo":-2.1,"hi":2.4},{"n":7750,"lo":-1.9,"hi":3.4},{"n":8350,"lo":-1.8,"hi":3.6},{"n":8750,"lo":-1.9,"hi":2.2},{"n":9050,"lo":-2.2,"hi":3.1},{"n":9300,"lo":-2.4,"hi":2.9},{"n":9700,"lo":-2.7,"hi":2},{"n":10000,"lo":-2.4,"hi":2.5},{"n":10300,"lo":-2.5,"hi":1.7},{"n":10700,"lo":-2.2,"hi":1.8},{"n":11200,"lo":-2.5,"hi":1.8},{"n":11900,"lo":-2.6,"hi":3},{"n":12300,"lo":-2.5,"hi":2.9},{"n":12800,"lo":-2.4,"hi":2.6},{"n":13300,"lo":-2.6,"hi":2.5},{"n":13800,"lo":-2.5,"hi":2.6},{"n":14200,"lo":-2.2,"hi":2.8},{"n":14600,"lo":-2.1,"hi":2.5},{"n":14900,"lo":-1.9,"hi":2.2},{"n":15500,"lo":-3.2,"hi":3.4},{"n":15900,"lo":-3,"hi":2.8},{"n":16200,"lo":-3.3,"hi":2.6},{"n":16700,"lo":-3.1,"hi":2.9},{"n":17200,"lo":-3.3,"hi":3},{"n":17500,"lo":-3,"hi":2.9},{"n":18000,"lo":-3.3,"hi":2.8},{"n":18450,"lo":-2.9,"hi":3.2},{"n":18950,"lo":-3.1,"hi":3.4},{"n":19500,"lo":-2.9,"hi":2.5},{"n":19900,"lo":-3,"hi":3},{"n":20300,"lo":-3.2,"hi":3.2},{"n":20750,"lo":-3.4,"hi":3},{"n":21200,"lo":-3.2,"hi":3.1},{"n":21600,"lo":-3.4,"hi":3.3},{"n":22050,"lo":-3.3,"hi":3.6},{"n":22400,"lo":-3.5,"hi":3.2},{"n":22950,"lo":-3.3,"hi":3.1},{"n":23300,"lo":-3.2,"hi":3},{"n":23700,"lo":-3,"hi":3.3},{"n":24150,"lo":-2.9,"hi":2.9},{"n":24500,"lo":-3,"hi":3.2},{"n":25000,"lo":-3.1,"hi":2.6},{"n":25300,"lo":-3,"hi":2.9},{"n":25700,"lo":-3,"hi":2.9},{"n":25950,"lo":-3.1,"hi":3},{"n":26400,"lo":-3.2,"hi":2.9},{"n":26750,"lo":-3,"hi":2.7},{"n":27100,"lo":-3.4,"hi":2.8},{"n":27350,"lo":-3.3,"hi":2.4},{"n":27650,"lo":-2.6,"hi":3.1},{"n":27950,"lo":-2.7,"hi":2.5},{"n":28150,"lo":-3.1,"hi":2.8},{"n":28600,"lo":-2.2,"hi":2.8},{"n":28850,"lo":-1.8,"hi":2.5},{"n":29050,"lo":-2.3,"hi":2.1},{"n":29350,"lo":-2.4,"hi":1.9},{"n":29550,"lo":-2.5,"hi":2.2},{"n":29950,"lo":-2.6,"hi":2.4},{"n":30550,"lo":-2.4,"hi":2.5},{"n":30950,"lo":-2.5,"hi":2.6},{"n":31200,"lo":-2.4,"hi":2.1},{"n":31700,"lo":-2.9,"hi":2.8},{"n":31900,"lo":-3.3,"hi":2.6},{"n":32350,"lo":-3.5,"hi":3},{"n":32950,"lo":-3,"hi":2.8},{"n":33200,"lo":-3.1,"hi":3.2},{"n":33500,"lo":-3.4,"hi":3.3},{"n":33850,"lo":-3.7,"hi":3.1},{"n":34300,"lo":-3.9,"hi":2.8},{"n":34600,"lo":-3.6,"hi":3.4},{"n":35100,"lo":-3.4,"hi":2.9},{"n":35700,"lo":-3.2,"hi":3},{"n":36200,"lo":-3.4,"hi":3.1},{"n":36500,"lo":-3.6,"hi":2.7},{"n":37250,"lo":-3.5,"hi":3.3},{"n":37600,"lo":-3.7,"hi":2.9},{"n":37900,"lo":-3.4,"hi":3},{"n":38300,"lo":-3.6,"hi":3.2},{"n":38600,"lo":-3.4,"hi":2.7},{"n":38850,"lo":-3.6,"hi":3.1},{"n":39250,"lo":-3.4,"hi":2.9},{"n":39800,"lo":-3.1,"hi":3},{"n":40100,"lo":-2.8,"hi":3.1},{"n":40300,"lo":-3,"hi":3},{"n":41200,"lo":-3,"hi":3},{"n":41500,"lo":-2.8,"hi":2.6},{"n":41800,"lo":-3,"hi":2.7},{"n":42200,"lo":-3.1,"hi":2.9},{"n":42800,"lo":-3.3,"hi":3.2},{"n":43100,"lo":-3.7,"hi":3.1},{"n":43400,"lo":-3.1,"hi":3},{"n":44000,"lo":-3.1,"hi":3.2},{"n":44300,"lo":-2.8,"hi":3.3},{"n":44800,"lo":-2.5,"hi":2.4},{"n":45200,"lo":-3.1,"hi":3.2},{"n":45800,"lo":-3.3,"hi":3.4},{"n":46200,"lo":-3.4,"hi":3.1},{"n":46500,"lo":-3.2,"hi":3.6},{"n":47100,"lo":-3.6,"hi":3.4},{"n":47400,"lo":-3.9,"hi":3.5},{"n":47700,"lo":-3.9,"hi":3},{"n":48150,"lo":-3.4,"hi":2.6},{"n":48600,"lo":-3.2,"hi":2.3},{"n":49000,"lo":-1.9,"hi":1.9},{"n":49300,"lo":-2.2,"hi":2.1},{"n":49900,"lo":-2.3,"hi":1.8},{"n":50200,"lo":-1.9,"hi":2.3},{"n":50700,"lo":-2.1,"hi":2.4},{"n":51000,"lo":-2.2,"hi":2}],
"bandD":[{"n":0,"lo":-1.9,"hi":1.97},{"n":625,"lo":-2.75,"hi":2.17},{"n":1450,"lo":-2.75,"hi":2.17},{"n":2270,"lo":-1.9,"hi":2.17},{"n":2930,"lo":-1.8,"hi":1.76},{"n":3750,"lo":-2.3,"hi":1.56},{"n":4240,"lo":-3.6,"hi":1.97},{"n":5070,"lo":-2.3,"hi":2.17},{"n":5970,"lo":-3.4,"hi":1.97},{"n":6710,"lo":-3.6,"hi":1.56},{"n":7000,"lo":-3,"hi":3.8},{"n":7530,"lo":-1.9,"hi":3.4},{"n":8520,"lo":-1.9,"hi":2.17},{"n":10000,"lo":-2,"hi":1.76},{"n":10990,"lo":-1.9,"hi":1.97},{"n":11980,"lo":-1.9,"hi":1.76},{"n":12960,"lo":-1.7,"hi":1.56},{"n":13950,"lo":-1.7,"hi":1.56},{"n":14940,"lo":-1.5,"hi":1.15},{"n":15350,"lo":-3.6,"hi":2},{"n":16250,"lo":-2.75,"hi":2.8},{"n":16910,"lo":-2.95,"hi":2.8},{"n":17900,"lo":-3.2,"hi":2.4},{"n":18720,"lo":-3.2,"hi":2.2},{"n":19210,"lo":-3.4,"hi":2.3},{"n":20200,"lo":-2.55,"hi":2.3},{"n":21190,"lo":-2.75,"hi":3},{"n":22500,"lo":-2.95,"hi":2.4},{"n":23490,"lo":-2.35,"hi":2.8},{"n":24480,"lo":-2.15,"hi":2.8},{"n":25460,"lo":-2.75,"hi":2.6},{"n":26260,"lo":-2.35,"hi":2.17},{"n":27090,"lo":-2.35,"hi":1.97},{"n":27920,"lo":-2.55,"hi":1.97},{"n":28590,"lo":-2.15,"hi":1.97},{"n":29420,"lo":-1.75,"hi":1.76},{"n":30250,"lo":-3.8,"hi":1.56},{"n":31250,"lo":-2.15,"hi":2.17},{"n":32080,"lo":-2.95,"hi":2.4},{"n":32910,"lo":-2.75,"hi":2.17},{"n":33740,"lo":-3.15,"hi":1.97},{"n":34580,"lo":-3.35,"hi":1.97},{"n":35410,"lo":-2.95,"hi":2.6},{"n":36240,"lo":-3.15,"hi":2.4},{"n":37070,"lo":-3.35,"hi":2.6},{"n":37900,"lo":-2.95,"hi":2.17},{"n":38740,"lo":-1.9,"hi":2.4},{"n":39570,"lo":-2.75,"hi":2.4},{"n":40400,"lo":-2.95,"hi":2.4},{"n":41230,"lo":-3.15,"hi":2.4},{"n":42060,"lo":-2.75,"hi":2.6},{"n":42900,"lo":-2.75,"hi":1.97},{"n":43730,"lo":-3.35,"hi":2.8},{"n":44560,"lo":-2.15,"hi":2.4},{"n":45390,"lo":-2.55,"hi":3},{"n":46220,"lo":-2.95,"hi":2.6},{"n":47060,"lo":-2.55,"hi":2.8},{"n":47890,"lo":-2.75,"hi":2.6},{"n":48720,"lo":-1.75,"hi":1.97},{"n":49550,"lo":-2.15,"hi":1.15},{"n":50380,"lo":-1.95,"hi":1.76},{"n":51200,"lo":-1.95,"hi":1.56}],
"spikeD":[{"n":710,"lo":0,"hi":3.6},{"n":2240,"lo":0,"hi":8.2},{"n":2630,"lo":0,"hi":6.75},{"n":2930,"lo":0,"hi":7.15},{"n":3880,"lo":0,"hi":10.6},{"n":4030,"lo":0,"hi":7.9},{"n":5100,"lo":0,"hi":3.8},{"n":5610,"lo":0,"hi":3.4},{"n":6790,"lo":0,"hi":3.77},{"n":7090,"lo":0,"hi":10.1},{"n":7340,"lo":0,"hi":10},{"n":7480,"lo":0,"hi":7.4},{"n":7810,"lo":0,"hi":8.6},{"n":8030,"lo":0,"hi":11.15},{"n":8140,"lo":0,"hi":8.9},{"n":8460,"lo":0,"hi":9},{"n":9800,"lo":0,"hi":11.3},{"n":10910,"lo":0,"hi":3},{"n":11520,"lo":0,"hi":3.2},{"n":11730,"lo":0,"hi":8.85},{"n":12420,"lo":0,"hi":7.6},{"n":15270,"lo":0,"hi":8.55},{"n":16140,"lo":0,"hi":3.9},{"n":17450,"lo":0,"hi":4.2},{"n":17900,"lo":0,"hi":3.7},{"n":19210,"lo":0,"hi":4.77},{"n":20450,"lo":0,"hi":3.5},{"n":21480,"lo":0,"hi":3.9},{"n":22750,"lo":0,"hi":3.7},{"n":870,"lo":-9.5,"hi":0},{"n":1000,"lo":-13.1,"hi":0},{"n":1330,"lo":-4.6,"hi":0},{"n":1500,"lo":-10.1,"hi":0},{"n":1660,"lo":-9.15,"hi":0},{"n":1940,"lo":-8.2,"hi":0},{"n":2140,"lo":-9.7,"hi":0},{"n":4050,"lo":-3.9,"hi":0},{"n":4240,"lo":-9.25,"hi":0},{"n":4660,"lo":-10.6,"hi":0},{"n":5230,"lo":-4.1,"hi":0},{"n":5510,"lo":-5.75,"hi":0},{"n":6050,"lo":-3.4,"hi":0},{"n":6500,"lo":-6.85,"hi":0},{"n":6650,"lo":-10.2,"hi":0},{"n":6910,"lo":-6.2,"hi":0},{"n":7040,"lo":-4.6,"hi":0},{"n":11370,"lo":-3.05,"hi":0},{"n":12110,"lo":-4.7,"hi":0},{"n":15300,"lo":-5.55,"hi":0},{"n":16910,"lo":-3.4,"hi":0},{"n":17950,"lo":-3.6,"hi":0},{"n":18590,"lo":-4.15,"hi":0},{"n":19210,"lo":-3.8,"hi":0},{"n":22750,"lo":-3.85,"hi":0},{"n":23360,"lo":-4,"hi":0},{"n":24530,"lo":-3.7,"hi":0},{"n":28700,"lo":0,"hi":11.55},{"n":29280,"lo":0,"hi":7.75},{"n":30233,"lo":-3,"hi":12.7},{"n":30300,"lo":-24.3,"hi":3},{"n":30340,"lo":-24.3,"hi":0},{"n":30420,"lo":0,"hi":6.25},{"n":31330,"lo":0,"hi":8},{"n":31450,"lo":0,"hi":5.85},{"n":32580,"lo":0,"hi":4.15},{"n":33990,"lo":0,"hi":4.85},{"n":36360,"lo":0,"hi":4.7},{"n":36820,"lo":0,"hi":5.7},{"n":37540,"lo":0,"hi":3.95},{"n":38190,"lo":0,"hi":3.75},{"n":38570,"lo":0,"hi":3.85},{"n":39570,"lo":0,"hi":3.95},{"n":41230,"lo":0,"hi":3.95},{"n":42480,"lo":0,"hi":3.9},{"n":43260,"lo":0,"hi":3.65},{"n":44340,"lo":0,"hi":3.9},{"n":45590,"lo":0,"hi":4.4},{"n":46090,"lo":0,"hi":4},{"n":47360,"lo":0,"hi":4.2},{"n":48350,"lo":0,"hi":5},{"n":48970,"lo":0,"hi":6.2},{"n":49470,"lo":0,"hi":10.6},{"n":50420,"lo":0,"hi":8.4},{"n":50730,"lo":0,"hi":10.1},{"n":26290,"lo":-13.3,"hi":0},{"n":28040,"lo":-8.3,"hi":0},{"n":28290,"lo":-9.1,"hi":0},{"n":28420,"lo":-4.7,"hi":0},{"n":28740,"lo":-6.65,"hi":0},{"n":29630,"lo":-3.45,"hi":0},{"n":30920,"lo":-6,"hi":0},{"n":31510,"lo":-8.2,"hi":0},{"n":32300,"lo":-6.25,"hi":0},{"n":32710,"lo":-5.7,"hi":0},{"n":34040,"lo":-5.2,"hi":0},{"n":34910,"lo":-3.9,"hi":0},{"n":36990,"lo":-4.1,"hi":0},{"n":38020,"lo":-4.1,"hi":0},{"n":40020,"lo":-4.15,"hi":0},{"n":41350,"lo":-4.75,"hi":0},{"n":42500,"lo":-8.95,"hi":0},{"n":43100,"lo":-3.95,"hi":0},{"n":43750,"lo":-9.35,"hi":0},{"n":45060,"lo":-5,"hi":0},{"n":46520,"lo":-8,"hi":0},{"n":47820,"lo":-9.85,"hi":0},{"n":48340,"lo":-8.5,"hi":0},{"n":150,"lo":-3,"hi":3},{"n":400,"lo":-3.2,"hi":2.7},{"n":760,"lo":-3.6,"hi":3.4},{"n":1100,"lo":-3.9,"hi":2.9},{"n":1300,"lo":-3.4,"hi":2.8},{"n":1650,"lo":-3.5,"hi":3.3},{"n":2000,"lo":-3.7,"hi":2.8},{"n":2400,"lo":-2.4,"hi":3},{"n":2800,"lo":-2.1,"hi":2.3},{"n":3200,"lo":-2.1,"hi":2.5},{"n":3500,"lo":-2.3,"hi":2.2},{"n":3700,"lo":-2.2,"hi":2.4},{"n":4300,"lo":-4,"hi":2.7},{"n":4500,"lo":-3.8,"hi":2.9},{"n":4900,"lo":-3,"hi":3.1},{"n":5200,"lo":-3.4,"hi":2.9},{"n":5400,"lo":-3.2,"hi":2.9},{"n":5800,"lo":-3.7,"hi":2.7},{"n":6200,"lo":-3.6,"hi":2.4},{"n":6400,"lo":-4,"hi":3},{"n":6800,"lo":-3.9,"hi":3.6},{"n":7700,"lo":-2.4,"hi":3.3},{"n":8000,"lo":-2.2,"hi":2.5},{"n":8700,"lo":-2.4,"hi":3},{"n":8950,"lo":-2.2,"hi":2.6},{"n":9300,"lo":-2.5,"hi":2.9},{"n":9500,"lo":-2.2,"hi":3},{"n":10200,"lo":-2.4,"hi":2.7},{"n":10500,"lo":-2.3,"hi":2.4},{"n":10800,"lo":-2.6,"hi":2.9},{"n":11200,"lo":-2.5,"hi":2.8},{"n":11500,"lo":-3,"hi":2.4},{"n":11800,"lo":-2.9,"hi":2.5},{"n":12200,"lo":-2.3,"hi":2.1},{"n":12600,"lo":-2.3,"hi":2.3},{"n":13000,"lo":-2,"hi":2.3},{"n":13300,"lo":-2,"hi":2.5},{"n":13700,"lo":-2.1,"hi":2},{"n":14100,"lo":-2.3,"hi":1.9},{"n":14600,"lo":-1.9,"hi":2.5},{"n":15000,"lo":-1.8,"hi":2.6},{"n":15150,"lo":-1.7,"hi":1.4},{"n":15500,"lo":-4,"hi":2.8},{"n":15900,"lo":-3.4,"hi":2.6},{"n":16400,"lo":-3.2,"hi":3.2},{"n":16700,"lo":-3.2,"hi":2.7},{"n":17100,"lo":-3.4,"hi":3.4},{"n":17600,"lo":-3,"hi":3.1},{"n":18100,"lo":-3.6,"hi":3},{"n":18400,"lo":-3.7,"hi":3.2},{"n":18900,"lo":-3.4,"hi":2.9},{"n":19500,"lo":-3.3,"hi":3},{"n":19900,"lo":-2.9,"hi":2.8},{"n":20300,"lo":-3.1,"hi":3.5},{"n":20700,"lo":-3.3,"hi":3},{"n":21000,"lo":-3.1,"hi":3.2},{"n":21700,"lo":-3.4,"hi":3.4},{"n":22100,"lo":-3.2,"hi":2.9},{"n":22400,"lo":-3.6,"hi":3.4},{"n":22950,"lo":-3.3,"hi":3.3},{"n":23200,"lo":-3.4,"hi":3},{"n":23700,"lo":-2.9,"hi":3.2},{"n":24000,"lo":-3,"hi":3.3},{"n":24300,"lo":-2.7,"hi":2.7},{"n":24700,"lo":-3.2,"hi":3.4},{"n":25000,"lo":-3.4,"hi":3.2},{"n":25300,"lo":-3.1,"hi":2.8},{"n":25700,"lo":-3,"hi":3.1},{"n":26000,"lo":-2.9,"hi":2.8},{"n":26500,"lo":-3,"hi":3.2},{"n":26800,"lo":-2.7,"hi":3},{"n":27300,"lo":-3.1,"hi":2.6},{"n":27600,"lo":-2.9,"hi":3.3},{"n":28150,"lo":-3.2,"hi":2.6},{"n":28900,"lo":-2.7,"hi":2.5},{"n":29150,"lo":-2.3,"hi":2.2},{"n":29500,"lo":-2.6,"hi":2.4},{"n":29850,"lo":-2.2,"hi":2.5},{"n":30700,"lo":-2.9,"hi":2.2},{"n":31000,"lo":-2.6,"hi":2.8},{"n":31650,"lo":-3,"hi":2.7},{"n":31950,"lo":-3.2,"hi":3},{"n":32400,"lo":-3.4,"hi":3},{"n":32800,"lo":-3,"hi":2.8},{"n":33200,"lo":-3.1,"hi":2.6},{"n":33500,"lo":-3.6,"hi":2.9},{"n":33800,"lo":-3.5,"hi":2.5},{"n":34300,"lo":-3.8,"hi":3.1},{"n":34650,"lo":-3.5,"hi":2.8},{"n":35000,"lo":-3.4,"hi":3},{"n":35600,"lo":-3.3,"hi":3.1},{"n":35900,"lo":-3.6,"hi":3},{"n":36100,"lo":-3.5,"hi":3.2},{"n":36600,"lo":-3.6,"hi":3.3},{"n":36900,"lo":-3.3,"hi":3.2},{"n":37300,"lo":-3.6,"hi":3},{"n":37800,"lo":-3.2,"hi":3.2},{"n":38350,"lo":-2.4,"hi":3},{"n":38900,"lo":-2.8,"hi":3.2},{"n":39200,"lo":-3,"hi":2.9},{"n":39800,"lo":-3.3,"hi":3.1},{"n":40200,"lo":-3.5,"hi":2.9},{"n":40600,"lo":-3.3,"hi":3.2},{"n":41000,"lo":-3.8,"hi":3},{"n":41700,"lo":-3.4,"hi":3.2},{"n":42250,"lo":-3.3,"hi":3.1},{"n":42700,"lo":-3.3,"hi":2.6},{"n":43400,"lo":-3.6,"hi":3.2},{"n":43950,"lo":-3.5,"hi":3.4},{"n":44200,"lo":-3,"hi":3.2},{"n":44700,"lo":-2.6,"hi":3.3},{"n":45000,"lo":-3,"hi":3.6},{"n":45800,"lo":-3.3,"hi":3.5},{"n":46300,"lo":-3.5,"hi":3.3},{"n":46700,"lo":-3.3,"hi":3.4},{"n":47200,"lo":-3.1,"hi":3.6},{"n":47600,"lo":-3.4,"hi":3.3},{"n":48100,"lo":-3,"hi":3},{"n":48500,"lo":-2.5,"hi":2.5},{"n":48850,"lo":-2.1,"hi":1.8},{"n":49100,"lo":-2.4,"hi":2},{"n":49700,"lo":-2.5,"hi":1.6},{"n":50000,"lo":-2.7,"hi":2.2},{"n":50200,"lo":-2.3,"hi":2.3},{"n":50600,"lo":-2.3,"hi":2.1},{"n":50900,"lo":-2.6,"hi":2.2}],
"gridYA":[{"v":0},{"v":0.1},{"v":0.2},{"v":0.3},{"v":0.4},{"v":0.5},{"v":0.6},{"v":0.7},{"v":0.8},{"v":0.9},{"v":1},{"v":1.1},{"v":1.2},{"v":1.3},{"v":1.4},{"v":1.5},{"v":1.6},{"v":1.7},{"v":1.8},{"v":1.9},{"v":2},{"v":2.1},{"v":2.2},{"v":2.3},{"v":2.4},{"v":2.5},{"v":2.6}],
"gridYB":[{"v":52},{"v":54},{"v":56},{"v":58},{"v":60},{"v":62},{"v":64},{"v":66},{"v":68},{"v":70},{"v":72},{"v":74},{"v":76},{"v":78},{"v":80},{"v":82},{"v":84},{"v":86},{"v":88},{"v":90},{"v":92},{"v":94},{"v":96},{"v":98},{"v":100},{"v":102},{"v":104},{"v":106},{"v":108},{"v":110},{"v":112},{"v":114},{"v":116},{"v":118},{"v":120},{"v":122},{"v":124},{"v":126},{"v":128}],
"gridX80":[{"v":2000},{"v":4000},{"v":6000},{"v":8000},{"v":10000},{"v":12000},{"v":14000},{"v":16000},{"v":18000},{"v":20000},{"v":22000},{"v":24000},{"v":26000},{"v":28000},{"v":30000},{"v":32000},{"v":34000},{"v":36000},{"v":38000},{"v":40000},{"v":42000},{"v":44000},{"v":46000},{"v":48000},{"v":50000},{"v":52000},{"v":54000},{"v":56000},{"v":58000},{"v":60000},{"v":62000},{"v":64000},{"v":66000},{"v":68000},{"v":70000},{"v":72000},{"v":74000},{"v":76000},{"v":78000}],
"gridX51":[{"v":1000},{"v":2000},{"v":3000},{"v":4000},{"v":5000},{"v":6000},{"v":7000},{"v":8000},{"v":9000},{"v":10000},{"v":11000},{"v":12000},{"v":13000},{"v":14000},{"v":15000},{"v":16000},{"v":17000},{"v":18000},{"v":19000},{"v":20000},{"v":21000},{"v":22000},{"v":23000},{"v":24000},{"v":25000},{"v":26000},{"v":27000},{"v":28000},{"v":29000},{"v":30000},{"v":31000},{"v":32000},{"v":33000},{"v":34000},{"v":35000},{"v":36000},{"v":37000},{"v":38000},{"v":39000},{"v":40000},{"v":41000},{"v":42000},{"v":43000},{"v":44000},{"v":45000},{"v":46000},{"v":47000},{"v":48000},{"v":49000},{"v":50000},{"v":51000}],
"gridYC":[{"v":-34},{"v":-32},{"v":-30},{"v":-28},{"v":-26},{"v":-24},{"v":-22},{"v":-20},{"v":-18},{"v":-16},{"v":-14},{"v":-12},{"v":-10},{"v":-8},{"v":-6},{"v":-4},{"v":-2},{"v":0},{"v":2},{"v":4},{"v":6},{"v":8},{"v":10},{"v":12},{"v":14},{"v":16},{"v":18},{"v":20},{"v":22},{"v":24},{"v":26},{"v":28},{"v":30},{"v":32},{"v":34},{"v":36}],
"gridYD":[{"v":-28},{"v":-27},{"v":-26},{"v":-25},{"v":-24},{"v":-23},{"v":-22},{"v":-21},{"v":-20},{"v":-19},{"v":-18},{"v":-17},{"v":-16},{"v":-15},{"v":-14},{"v":-13},{"v":-12},{"v":-11},{"v":-10},{"v":-9},{"v":-8},{"v":-7},{"v":-6},{"v":-5},{"v":-4},{"v":-3},{"v":-2},{"v":-1},{"v":0},{"v":1},{"v":2},{"v":3},{"v":4},{"v":5},{"v":6},{"v":7},{"v":8},{"v":9},{"v":10},{"v":11},{"v":12}]
},
"vconcat":[
{"hconcat":[
{"width":18,"height":1140,"view":{"stroke":null},"data":{"values":[]},"mark":{"type":"rule","opacity":0},"encoding":{}},
{"hconcat":[
{"width":1489,"height":1140,"resolve":{"axis":{"x":"independent","y":"independent"}},"layer":[
{"data":{"name":"gridYA"},"mark":{"type":"rule","color":"#c0c0c0","strokeWidth":3,"strokeDash":[4,9]},"encoding":{"y":{"field":"v","type":"quantitative","scale":{"domain":[-0.02,2.665],"nice":false,"zero":false},"axis":{"orient":"right","labels":false,"title":null,"values":[0,0.5,1,1.5,2,2.5]}}}},
{"data":{"name":"gridX80"},"mark":{"type":"rule","color":"#c0c0c0","strokeWidth":3,"strokeDash":[5,16]},"encoding":{"x":{"field":"v","type":"quantitative","scale":{"domain":[0,80000],"nice":false,"zero":false},"axis":{"orient":"top","labels":false,"title":null,"values":[10000,20000,30000,40000,50000,60000,70000,80000]}}}},
{"data":{"name":"bandA"},"mark":{"type":"area","color":"black","stroke":"black","strokeWidth":2,"clip":true},"encoding":{"x":{"field":"n","type":"quantitative","axis":{"orient":"bottom","title":"Data point(No.)","titleX":713,"titleY":150,"values":[10000,20000,30000,40000,50000,60000,70000,80000],"labelExpr":"'' + datum.value / 10000"}},"y":{"field":"lo","type":"quantitative","axis":{"orient":"left","title":"Pressure of furnace(mmH₂O)","titleX":-158,"values":[0,0.5,1,1.5,2,2.5],"labelExpr":"'' + datum.value"}},"y2":{"field":"hi"}}},
{"data":{"name":"spikeA"},"mark":{"type":"rule","color":"black","strokeWidth":3.5,"clip":true},"encoding":{"x":{"field":"n","type":"quantitative","axis":null},"y":{"field":"lo","type":"quantitative","axis":null},"y2":{"field":"hi"}}},
{"data":{"name":"note"},"mark":{"type":"text","text":"×10","fontSize":47,"align":"right","dx":-22,"dy":141,"baseline":"alphabetic"},"encoding":{"x":{"datum":80000,"type":"quantitative","axis":null},"y":{"datum":-0.02,"type":"quantitative","axis":null}}},
{"data":{"name":"note"},"mark":{"type":"text","text":"4","fontSize":30,"align":"right","dx":0,"dy":121,"baseline":"alphabetic"},"encoding":{"x":{"datum":80000,"type":"quantitative","axis":null},"y":{"datum":-0.02,"type":"quantitative","axis":null}}},
{"data":{"name":"note"},"mark":{"type":"text","text":"(","font":"Liberation Serif","fontSize":78,"dx":-31,"dy":341,"baseline":"alphabetic"},"encoding":{"x":{"datum":34120,"type":"quantitative","axis":null},"y":{"datum":-0.02,"type":"quantitative","axis":null}}},
{"data":{"name":"note"},"mark":{"type":"text","text":"a","font":"Liberation Serif","fontWeight":"bold","fontSize":78,"dy":341,"baseline":"alphabetic"},"encoding":{"x":{"datum":34120,"type":"quantitative","axis":null},"y":{"datum":-0.02,"type":"quantitative","axis":null}}},
{"data":{"name":"note"},"mark":{"type":"text","text":")","font":"Liberation Serif","fontSize":78,"dx":31,"dy":341,"baseline":"alphabetic"},"encoding":{"x":{"datum":34120,"type":"quantitative","axis":null},"y":{"datum":-0.02,"type":"quantitative","axis":null}}}
]},
{"width":1491,"height":1140,"resolve":{"axis":{"x":"independent","y":"independent"}},"layer":[
{"data":{"name":"gridYB"},"mark":{"type":"rule","color":"#c0c0c0","strokeWidth":3,"strokeDash":[4,9]},"encoding":{"y":{"field":"v","type":"quantitative","scale":{"domain":[50.9,129.3],"nice":false,"zero":false},"axis":{"orient":"right","labels":false,"title":null,"values":[60,70,80,90,100,110,120]}}}},
{"data":{"name":"gridX80"},"mark":{"type":"rule","color":"#c0c0c0","strokeWidth":3,"strokeDash":[5,16]},"encoding":{"x":{"field":"v","type":"quantitative","scale":{"domain":[0,80000],"nice":false,"zero":false},"axis":{"orient":"top","labels":false,"title":null,"values":[10000,20000,30000,40000,50000,60000,70000,80000]}}}},
{"data":{"name":"bandB"},"mark":{"type":"area","color":"black","stroke":"black","strokeWidth":2,"clip":true},"encoding":{"x":{"field":"n","type":"quantitative","axis":{"orient":"bottom","title":"Data point(No.)","titleX":734,"titleY":150,"values":[10000,20000,30000,40000,50000,60000,70000,80000],"labelExpr":"'' + datum.value / 10000"}},"y":{"field":"lo","type":"quantitative","axis":{"orient":"left","title":"Temperature of feedwater(%)","titleX":-154,"values":[60,70,80,90,100,110,120],"labelExpr":"'' + datum.value"}},"y2":{"field":"hi"}}},
{"data":{"name":"spikeB"},"mark":{"type":"rule","color":"black","strokeWidth":3.5,"clip":true},"encoding":{"x":{"field":"n","type":"quantitative","axis":null},"y":{"field":"lo","type":"quantitative","axis":null},"y2":{"field":"hi"}}},
{"data":{"name":"note"},"mark":{"type":"text","text":"×10","fontSize":47,"align":"right","dx":-22,"dy":141,"baseline":"alphabetic"},"encoding":{"x":{"datum":80000,"type":"quantitative","axis":null},"y":{"datum":50.9,"type":"quantitative","axis":null}}},
{"data":{"name":"note"},"mark":{"type":"text","text":"4","fontSize":30,"align":"right","dy":121,"baseline":"alphabetic"},"encoding":{"x":{"datum":80000,"type":"quantitative","axis":null},"y":{"datum":50.9,"type":"quantitative","axis":null}}},
{"data":{"name":"note"},"mark":{"type":"text","text":"(","font":"Liberation Serif","fontSize":78,"dx":-35,"dy":341,"baseline":"alphabetic"},"encoding":{"x":{"datum":34550,"type":"quantitative","axis":null},"y":{"datum":50.9,"type":"quantitative","axis":null}}},
{"data":{"name":"note"},"mark":{"type":"text","text":"b","font":"Liberation Serif","fontWeight":"bold","fontSize":78,"dy":341,"baseline":"alphabetic"},"encoding":{"x":{"datum":34550,"type":"quantitative","axis":null},"y":{"datum":50.9,"type":"quantitative","axis":null}}},
{"data":{"name":"note"},"mark":{"type":"text","text":")","font":"Liberation Serif","fontSize":78,"dx":35,"dy":341,"baseline":"alphabetic"},"encoding":{"x":{"datum":34550,"type":"quantitative","axis":null},"y":{"datum":50.9,"type":"quantitative","axis":null}}}
]}
],"spacing":427,"bounds":"flush"}
],"spacing":0,"bounds":"flush"},
{"hconcat":[
{"width":1493,"height":1142,"resolve":{"axis":{"x":"independent","y":"independent"}},"layer":[
{"data":{"name":"gridYC"},"mark":{"type":"rule","color":"#c0c0c0","strokeWidth":3,"strokeDash":[4,9]},"encoding":{"y":{"field":"v","type":"quantitative","scale":{"domain":[-34.3,37.5],"nice":false,"zero":false},"axis":{"orient":"right","labels":false,"title":null,"values":[-30,-20,-10,0,10,20,30]}}}},
{"data":{"name":"gridX51"},"mark":{"type":"rule","color":"#c0c0c0","strokeWidth":3,"strokeDash":[4,8]},"encoding":{"x":{"field":"v","type":"quantitative","scale":{"domain":[0,51200],"nice":false,"zero":false},"axis":{"orient":"top","labels":false,"title":null,"values":[5000,10000,15000,20000,25000,30000,35000,40000,45000,50000]}}}},
{"data":{"name":"bandC"},"mark":{"type":"area","color":"black","stroke":"black","strokeWidth":2,"clip":true},"encoding":{"x":{"field":"n","type":"quantitative","axis":{"orient":"bottom","title":"Data point(No.)","titleX":748,"titleY":143,"values":[5000,10000,15000,20000,25000,30000,35000,40000,45000,50000],"labelExpr":"'' + datum.value / 10000"}},"y":{"field":"lo","type":"quantitative","axis":{"orient":"left","title":"Pressure of furnace(mmH₂O)","titleX":-128,"values":[-30,-20,-10,0,10,20,30],"labelExpr":"datum.value == -30 ? '-30' : '' + abs(datum.value)"}},"y2":{"field":"hi"}}},
{"data":{"name":"spikeC"},"mark":{"type":"rule","color":"black","strokeWidth":3.5,"clip":true},"encoding":{"x":{"field":"n","type":"quantitative","axis":null},"y":{"field":"lo","type":"quantitative","axis":null},"y2":{"field":"hi"}}},
{"data":{"name":"note"},"mark":{"type":"text","text":"×10","fontSize":47,"align":"right","dx":-22,"dy":141,"baseline":"alphabetic"},"encoding":{"x":{"datum":51200,"type":"quantitative","axis":null},"y":{"datum":-34.3,"type":"quantitative","axis":null}}},
{"data":{"name":"note"},"mark":{"type":"text","text":"4","fontSize":30,"align":"right","dy":121,"baseline":"alphabetic"},"encoding":{"x":{"datum":51200,"type":"quantitative","axis":null},"y":{"datum":-34.3,"type":"quantitative","axis":null}}},
{"data":{"name":"note"},"mark":{"type":"text","text":"(","font":"Liberation Serif","fontSize":78,"dx":-31,"dy":341,"baseline":"alphabetic"},"encoding":{"x":{"datum":22500,"type":"quantitative","axis":null},"y":{"datum":-34.3,"type":"quantitative","axis":null}}},
{"data":{"name":"note"},"mark":{"type":"text","text":"c","font":"Liberation Serif","fontWeight":"bold","fontSize":78,"dy":341,"baseline":"alphabetic"},"encoding":{"x":{"datum":22500,"type":"quantitative","axis":null},"y":{"datum":-34.3,"type":"quantitative","axis":null}}},
{"data":{"name":"note"},"mark":{"type":"text","text":")","font":"Liberation Serif","fontSize":78,"dx":31,"dy":341,"baseline":"alphabetic"},"encoding":{"x":{"datum":22500,"type":"quantitative","axis":null},"y":{"datum":-34.3,"type":"quantitative","axis":null}}}
]},
{"width":1493,"height":1142,"resolve":{"axis":{"x":"independent","y":"independent"}},"layer":[
{"data":{"name":"gridYD"},"mark":{"type":"rule","color":"#c0c0c0","strokeWidth":3,"strokeDash":[4,9]},"encoding":{"y":{"field":"v","type":"quantitative","scale":{"domain":[-28.05,12.7],"nice":false,"zero":false},"axis":{"orient":"right","labels":false,"title":null,"values":[-25,-20,-15,-10,-5,0,5,10]}}}},
{"data":{"name":"gridX51"},"mark":{"type":"rule","color":"#c0c0c0","strokeWidth":3,"strokeDash":[4,8]},"encoding":{"x":{"field":"v","type":"quantitative","scale":{"domain":[0,51200],"nice":false,"zero":false},"axis":{"orient":"top","labels":false,"title":null,"values":[5000,10000,15000,20000,25000,30000,35000,40000,45000,50000]}}}},
{"data":{"name":"bandD"},"mark":{"type":"area","color":"black","stroke":"black","strokeWidth":2,"clip":true},"encoding":{"x":{"field":"n","type":"quantitative","axis":{"orient":"bottom","title":"Data point(No.)","titleX":696,"titleY":145,"values":[5000,10000,15000,20000,25000,30000,35000,40000,45000,50000],"labelExpr":"'' + datum.value / 10000"}},"y":{"field":"lo","type":"quantitative","axis":{"orient":"left","title":"Temperature of feedwater(%)","titleX":-139,"values":[-25,-20,-15,-10,-5,0,5,10],"labelExpr":"'' + datum.value"}},"y2":{"field":"hi"}}},
{"data":{"name":"spikeD"},"mark":{"type":"rule","color":"black","strokeWidth":3.5,"clip":true},"encoding":{"x":{"field":"n","type":"quantitative","axis":null},"y":{"field":"lo","type":"quantitative","axis":null},"y2":{"field":"hi"}}},
{"data":{"name":"note"},"mark":{"type":"text","text":"×10","fontSize":47,"align":"right","dx":-22,"dy":141,"baseline":"alphabetic"},"encoding":{"x":{"datum":51200,"type":"quantitative","axis":null},"y":{"datum":-28.05,"type":"quantitative","axis":null}}},
{"data":{"name":"note"},"mark":{"type":"text","text":"4","fontSize":30,"align":"right","dy":121,"baseline":"alphabetic"},"encoding":{"x":{"datum":51200,"type":"quantitative","axis":null},"y":{"datum":-28.05,"type":"quantitative","axis":null}}},
{"data":{"name":"note"},"mark":{"type":"text","text":"(","font":"Liberation Serif","fontSize":78,"dx":-35,"dy":341,"baseline":"alphabetic"},"encoding":{"x":{"datum":22120,"type":"quantitative","axis":null},"y":{"datum":-28.05,"type":"quantitative","axis":null}}},
{"data":{"name":"note"},"mark":{"type":"text","text":"d","font":"Liberation Serif","fontWeight":"bold","fontSize":78,"dy":341,"baseline":"alphabetic"},"encoding":{"x":{"datum":22120,"type":"quantitative","axis":null},"y":{"datum":-28.05,"type":"quantitative","axis":null}}},
{"data":{"name":"note"},"mark":{"type":"text","text":")","font":"Liberation Serif","fontSize":78,"dx":35,"dy":341,"baseline":"alphabetic"},"encoding":{"x":{"datum":22120,"type":"quantitative","axis":null},"y":{"datum":-28.05,"type":"quantitative","axis":null}}}
]}
],"spacing":439,"bounds":"flush"}
]}
